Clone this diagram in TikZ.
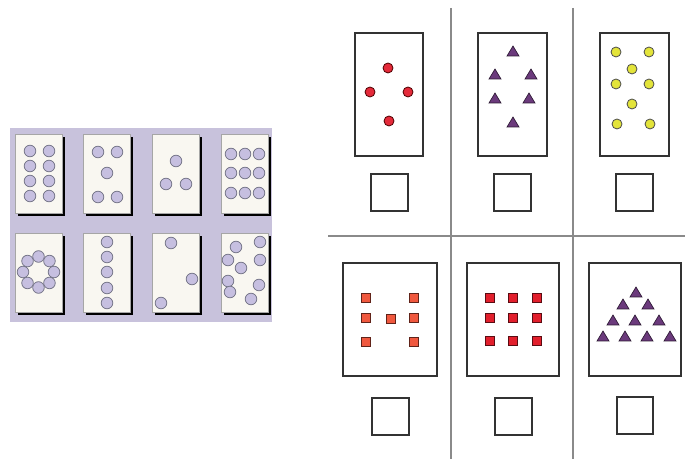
\documentclass[tikz,border=0pt]{standalone}
\usepackage{tikz}
\definecolor{bgpurple}{HTML}{C8C2DC}
\definecolor{cardfill}{HTML}{F9F7F1}
\definecolor{dotfill}{HTML}{C6BFE0}
\definecolor{dotline}{HTML}{77778A}
\definecolor{rdot}{HTML}{E42A3A}
\definecolor{tripurple}{HTML}{6B3A7C}
\definecolor{ydot}{HTML}{E3E43A}
\definecolor{osq}{HTML}{F0583E}
\definecolor{rsq}{HTML}{E21F2C}
\definecolor{divline}{HTML}{8A8A8A}
\tikzset{
  card/.style={fill=cardfill,draw=gray!70,line width=0.4pt},
  cardshadow/.style={fill=black},
  gdot/.style={fill=dotfill,draw=dotline,line width=0.6pt},
  frame/.style={draw=black!80,line width=1.1pt,fill=white},
  divider/.style={draw=divline,line width=0.8pt},
  reddot/.style={fill=rdot,draw=black!70!red,line width=0.6pt},
  yeldot/.style={fill=ydot,draw=black!70,line width=0.6pt},
  trishape/.style={fill=tripurple,draw=black!60!tripurple,line width=0.5pt},
  osquare/.style={fill=osq,draw=black!60!osq,line width=0.6pt},
  rsquare/.style={fill=rsq,draw=black!60!rsq,line width=0.6pt},
  pics/tri/.style={code={\draw[trishape] (-6,4) -- (6,4) -- (0,-6) -- cycle;}},
  pics/sq/.style args={#1}{code={\draw[#1] (-4.7,-4.7) rectangle (4.7,4.7);}}
}
\begin{document}
\begin{tikzpicture}[x=0.75pt,y=-0.75pt]
\useasboundingbox (0,0) rectangle (685,459);
\fill[white] (0,0) rectangle (685,459);
% ---------- left panel ----------
\fill[bgpurple] (10,128) rectangle (272,322);
\foreach \cx/\cy in {15/134,83/134,152/134,221/134,15/233,83/233,152/233,221/233}{
  \fill[cardshadow] (\cx+3,\cy+3) rectangle (\cx+50,\cy+82);
  \draw[card] (\cx,\cy) rectangle (\cx+47,\cy+79);
}
% card 1
\foreach \x in {30,49}{\foreach \y in {151,166,181,196}{\draw[gdot] (\x,\y) circle (5.8);}}
% card 2
\foreach \x/\y in {98/152,117/152,107/173,98/197,117/197}{\draw[gdot] (\x,\y) circle (5.8);}
% card 3
\foreach \x/\y in {176/161,166/184,186/184}{\draw[gdot] (\x,\y) circle (5.8);}
% card 4
\foreach \x in {231,245,259}{\foreach \y in {154,173,193}{\draw[gdot] (\x,\y) circle (5.8);}}
% card 5 ring
\foreach \a in {0,45,...,315}{\draw[gdot] ([shift={(\a:15.5)}]38.5,272) circle (5.8);}
% card 6
\foreach \y in {242,257,272,288,303}{\draw[gdot] (107,\y) circle (5.8);}
% card 7
\foreach \x/\y in {171/243,192/279,161/303}{\draw[gdot] (\x,\y) circle (5.8);}
% card 8
\foreach \x/\y in {236/247,260/242,228/260,241/268,260/260,228/281,230/292,259/285,251/299}{\draw[gdot] (\x,\y) circle (5.8);}
% ---------- right panel dividers ----------
\draw[divider] (451,8) -- (451,459);
\draw[divider] (573,8) -- (573,459);
\draw[divider] (328,236) -- (685,236);
% ---------- top row ----------
\draw[frame] (355,33) rectangle (423,156);
\draw[frame] (371,174) rectangle (408,211);
\draw[frame] (478,33) rectangle (547,156);
\draw[frame] (494,174) rectangle (531,211);
\draw[frame] (600,33) rectangle (669,156);
\draw[frame] (616,174) rectangle (653,211);
\foreach \x/\y in {388/68,370/92,408/92,389/121}{\draw[reddot] (\x,\y) circle (5);}
\foreach \x/\y in {513/52,495/75,531/75,495/99,529/99,513/123}{\pic at (\x,\y) {tri};}
\foreach \x/\y in {616/52,649/52,632/69,616/84,649/84,632/104,617/124,650/124}{\draw[yeldot] (\x,\y) circle (5);}
% ---------- bottom row ----------
\draw[frame] (343,263) rectangle (437,376);
\draw[frame] (372,398) rectangle (409,435);
\draw[frame] (467,263) rectangle (559,376);
\draw[frame] (495,398) rectangle (532,435);
\draw[frame] (589,263) rectangle (681,376);
\draw[frame] (617,397) rectangle (653,434);
\foreach \x/\y in {366/298,414/298,366/318,391/319,414/318,366/342,414/342}{\pic at (\x,\y) {sq={osquare}};}
\foreach \x in {490,513,537}{\foreach \y in {298,318,341}{\pic at (\x,\y) {sq={rsquare}};}}
\foreach \x/\y in {636/293,623/305,648/305,613/321,635/321,659/321,603/337,625/337,647/337,670/337}{\pic at (\x,\y) {tri};}
\end{tikzpicture}
\end{document}
